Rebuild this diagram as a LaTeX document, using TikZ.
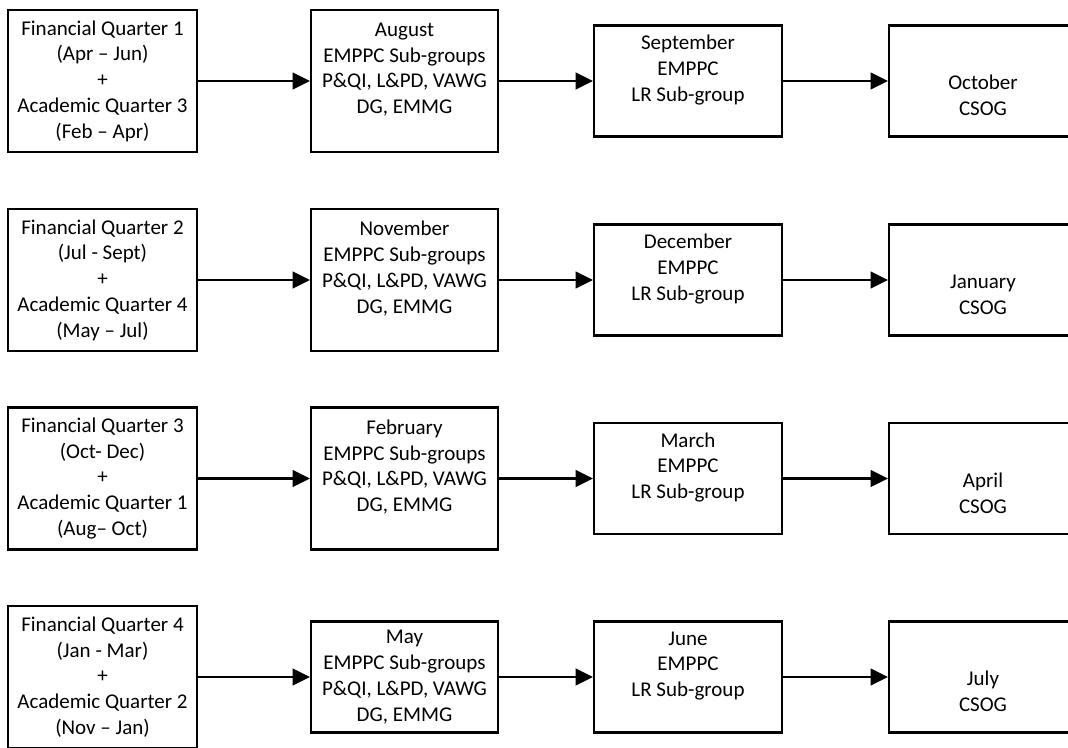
\documentclass[tikz,border=0pt]{standalone}
\usepackage{fontspec}
\setmainfont{Carlito}
\usetikzlibrary{arrows.meta}
\begin{document}
\begin{tikzpicture}[x=0.75pt,y=-0.75pt,
  box/.style={draw=black, line width=1.6pt, align=center, inner sep=0pt, font=\fontsize{15.75}{19.3}\selectfont},
  qbox/.style={box, minimum width=141.75pt, minimum height=106.5pt},
  sbox/.style={box, minimum width=140.25pt, minimum height=106.5pt},
  sboxs/.style={box, minimum width=140.25pt, minimum height=83.25pt},
  lbox/.style={box, minimum width=141pt, minimum height=83.25pt},
  cbox/.style={box, minimum width=141pt, minimum height=83.25pt},
  conn/.style={line width=1.6pt, -{Triangle[length=13pt,width=12.5pt]}}]
\clip (0,0) rectangle (1068,747);
\fill[white] (0,0) rectangle (1068,747);
% Row 1
\node[qbox] (q1) at (102.5,81) {Financial Quarter 1\\(Apr – Jun)\\+\\Academic Quarter 3\\(Feb – Apr)};
\node[sbox] (s1) at (404.5,81) {August\\EMPPC Sub-groups\\P\&QI, L\&PD, VAWG\\DG, EMMG\\\mbox{}};
\node[lbox] (l1) at (688,81) {September\\EMPPC\\LR Sub-group\\\mbox{}};
\node[cbox] (c1) at (983,81) {\strut\\October\\CSOG};
% Row 2
\node[qbox] (q2) at (102.5,280) {Financial Quarter 2\\(Jul - Sept)\\+\\Academic Quarter 4\\(May – Jul)};
\node[sbox] (s2) at (404.5,280) {November\\EMPPC Sub-groups\\P\&QI, L\&PD, VAWG\\DG, EMMG\\\mbox{}};
\node[lbox] (l2) at (688,280) {December\\EMPPC\\LR Sub-group\\\mbox{}};
\node[cbox] (c2) at (983,280) {\strut\\January\\CSOG};
% Row 3
\node[qbox] (q3) at (102.5,478.5) {Financial Quarter 3\\(Oct- Dec)\\+\\Academic Quarter 1\\(Aug– Oct)};
\node[sbox] (s3) at (404.5,478.5) {February\\EMPPC Sub-groups\\P\&QI, L\&PD, VAWG\\DG, EMMG\\\mbox{}};
\node[lbox] (l3) at (688,478.5) {March\\EMPPC\\LR Sub-group\\\mbox{}};
\node[cbox] (c3) at (983,478.5) {\strut\\April\\CSOG};
% Row 4
\node[qbox] (q4) at (102.5,677) {Financial Quarter 4\\(Jan - Mar)\\+\\Academic Quarter 2\\(Nov – Jan)};
\node[sboxs] (s4) at (404.5,677) {May\\EMPPC Sub-groups\\P\&QI, L\&PD, VAWG\\DG, EMMG};
\node[lbox] (l4) at (688,677) {June\\EMPPC\\LR Sub-group\\\mbox{}};
\node[cbox] (c4) at (983,677) {\strut\\July\\CSOG};
% Connectors
\foreach \r in {1,2,3,4}{
  \draw[conn] (q\r.east) -- (s\r.west);
  \draw[conn] (s\r.east) -- (l\r.west);
  \draw[conn] (l\r.east) -- (c\r.west);
}
\end{tikzpicture}
\end{document}
